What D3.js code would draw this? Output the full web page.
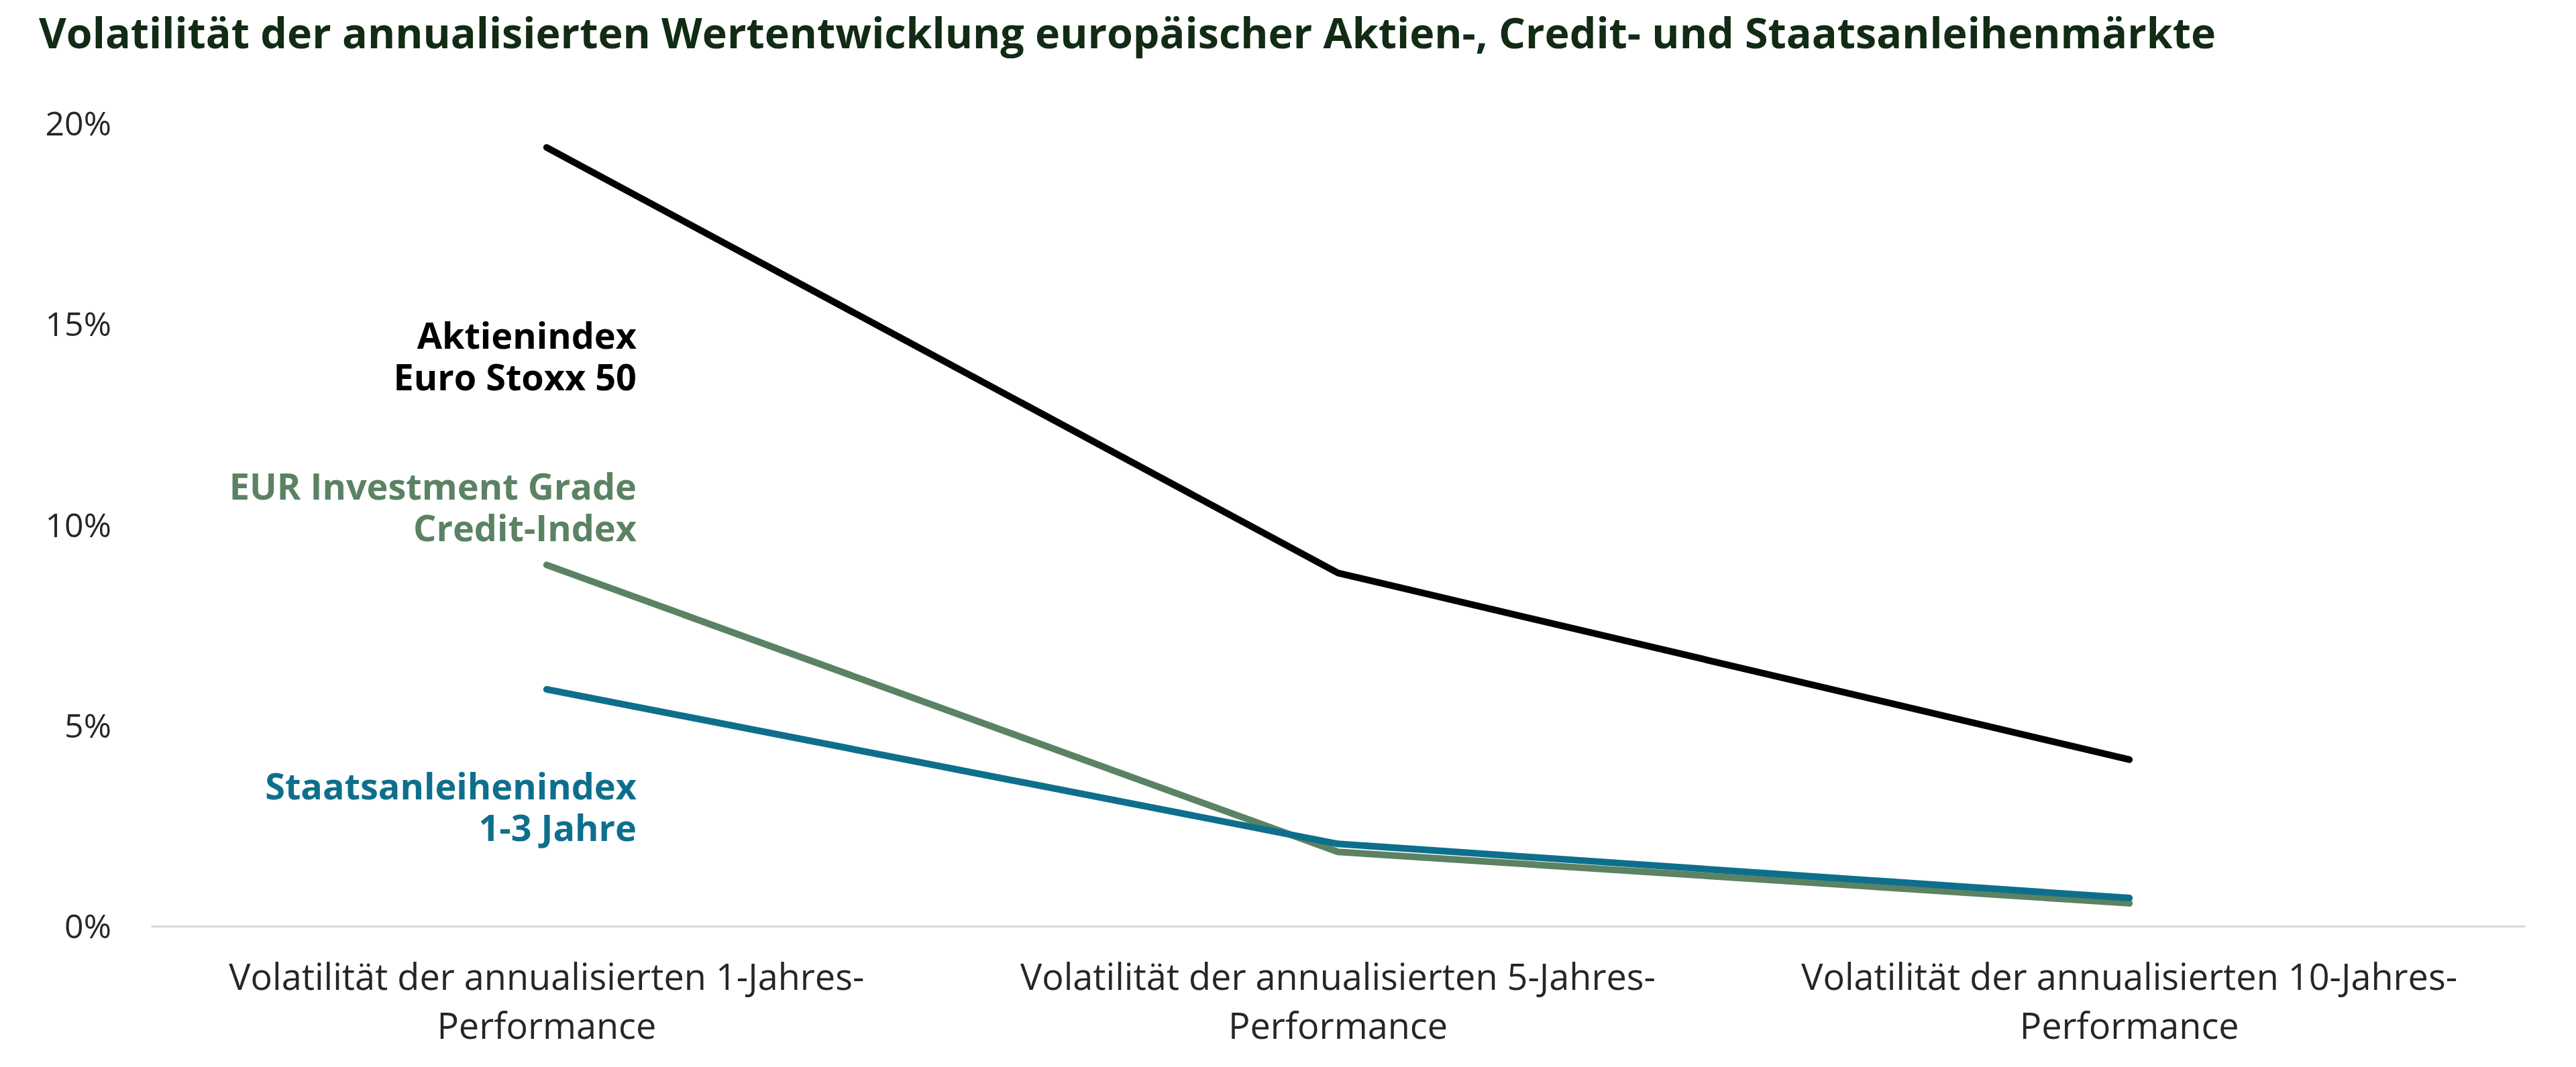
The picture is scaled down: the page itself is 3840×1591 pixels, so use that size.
<!DOCTYPE html>
<html>
<head>
<meta charset="utf-8">
<script src="https://cdn.jsdelivr.net/npm/d3@7"></script>
<style>
  html, body { margin: 0; padding: 0; background: #fff; }
  svg { display: block; }
  text { font-family: "Open Sans", "Noto Sans", sans-serif; }
</style>
</head>
<body>
<svg id="chart" width="3840" height="1591"></svg>
<script>
// ---- data ----
const title = "Volatilität der annualisierten Wertentwicklung europäischer Aktien-, Credit- und Staatsanleihenmärkte";
const categories = [
  ["Volatilität der annualisierten 1-Jahres-", "Performance"],
  ["Volatilität der annualisierten 5-Jahres-", "Performance"],
  ["Volatilität der annualisierten 10-Jahres-", "Performance"]
];
const seriesNames = [
  ["Aktienindex", "Euro Stoxx 50"],
  ["EUR Investment Grade", "Credit-Index"],
  ["Staatsanleihenindex", "1-3 Jahre"]
];
const aktien = [19.4, 8.8, 4.15];
const credit = [9.0, 1.85, 0.57];
const staat  = [5.9, 2.05, 0.70];
const yTicks = [0, 5, 10, 15, 20];
const colors = ["#000000", "#5b8263", "#0e6f8c"];

// ---- layout ----
const svg = d3.select("#chart");
const x0 = 225, x1 = 3764, yTop = 184, yBottom = 1381;

const x = d3.scaleBand().domain(d3.range(categories.length)).range([x0, x1]).padding(0);
const y = d3.scaleLinear().domain([0, 20]).range([yBottom, yTop]);

// title
const t = svg.append("text")
  .attr("x", 58).attr("y", 72)
  .attr("font-size", 62).attr("font-weight", 700)
  .attr("fill", "#112b14")
  .text(title);
const natural = t.node().getComputedTextLength();
const target = 3303 - 58;
if (Math.abs(natural - target) > 10) {
  t.attr("textLength", target).attr("lengthAdjust", "spacingAndGlyphs");
}

// y axis labels
const yAxis = d3.axisLeft(y).tickValues(yTicks).tickFormat(d => d + "%").tickSize(0).tickPadding(0);
const gy = svg.append("g").attr("transform", `translate(166,0)`).call(yAxis);
gy.select(".domain").remove();
gy.selectAll("text")
  .attr("font-size", 50)
  .attr("fill", "#262626")
  .attr("font-family", "Open Sans, sans-serif")
  .attr("dy", "0.35em");

// baseline
const xAxis = d3.axisBottom(x).tickSize(0).tickFormat("");
const gx = svg.append("g").attr("transform", `translate(0,${y(0)})`).call(xAxis);
gx.select(".domain").attr("stroke", "#d9d9d9").attr("stroke-width", 3);

// category labels
const catG = svg.append("g");
categories.forEach((lines, i) => {
  const cx = x(i) + x.bandwidth() / 2;
  const txt = catG.append("text")
    .attr("x", cx).attr("y", 1476)
    .attr("text-anchor", "middle")
    .attr("font-size", 54)
    .attr("fill", "#262626");
  lines.forEach((l, j) => {
    txt.append("tspan").attr("x", cx).attr("dy", j === 0 ? 0 : 73).text(l);
  });
});

// lines
const line = d3.line()
  .x((d, i) => x(i) + x.bandwidth() / 2)
  .y(d => y(d));
const series = [aktien, credit, staat];
series.forEach((s, k) => {
  svg.append("path")
    .datum(s)
    .attr("d", line)
    .attr("fill", "none")
    .attr("stroke", colors[k])
    .attr("stroke-width", 10)
    .attr("stroke-linejoin", "round")
    .attr("stroke-linecap", "round");
});

// series labels (one text element per label, two lines as tspans)
const labelBaselines = [520, 745, 1192];
seriesNames.forEach((lines, k) => {
  const txt = svg.append("text")
    .attr("x", 949).attr("y", labelBaselines[k])
    .attr("text-anchor", "end")
    .attr("font-size", 54).attr("font-weight", 700)
    .attr("fill", colors[k]);
  lines.forEach((l, j) => {
    txt.append("tspan").attr("x", 949).attr("dy", j === 0 ? 0 : 62).text(l);
  });
});
</script>
</body>
</html>
